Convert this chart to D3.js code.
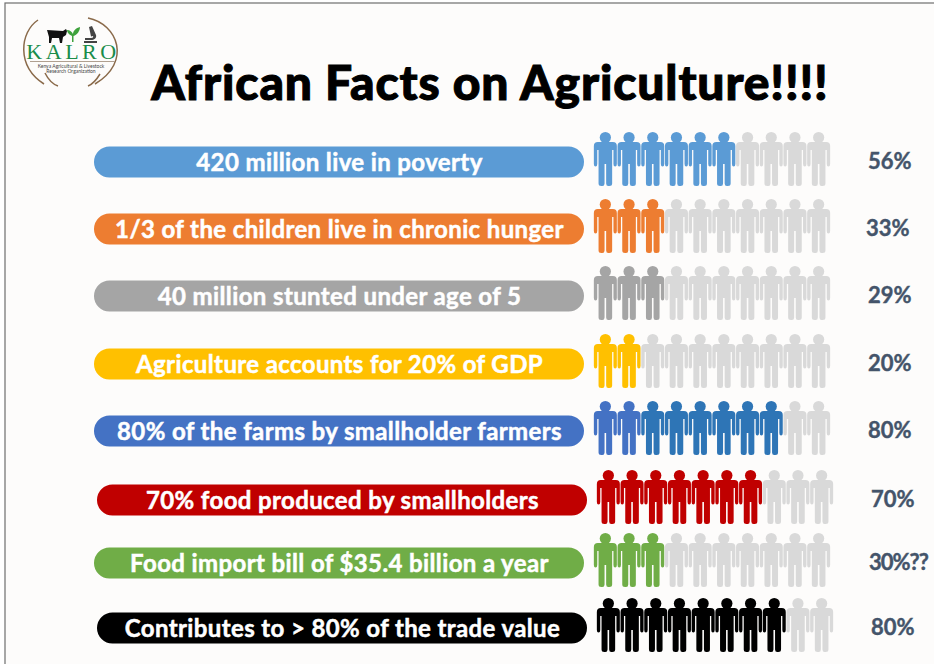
<!DOCTYPE html>
<html>
<head>
<meta charset="utf-8">
<script src="https://cdn.jsdelivr.net/npm/d3@7"></script>
<style>
  html, body { margin: 0; padding: 0; background: #fff; overflow: hidden; }
  text { font-family: Lato, sans-serif; }
</style>
</head>
<body>
<div id="chart"></div>
<script>
const facts = [
  "420 million live in poverty",
  "1/3 of the children live in chronic hunger",
  "40 million stunted under age of 5",
  "Agriculture accounts for 20% of GDP",
  "80% of the farms by smallholder farmers",
  "70% food produced by smallholders",
  "Food import bill of $35.4 billion a year",
  "Contributes to > 80% of the trade value"
]
const filled = [6, 3, 3, 2, 8, 7, 3, 8]
const pctLabels = ["56%", "33%", "29%", "20%", "80%", "70%", "30%??", "80%"]
const colors = ["#5b9bd5", "#ed7d31", "#a5a5a5", "#ffc000", "#4472c4", "#c00000", "#70ad47", "#000000"]
const iconIndex = d3.range(10)

let width = 934
let height = 664

// rows are not evenly spaced in the slide, so the y scale is ordinal
let y = d3.scaleOrdinal().domain(d3.range(8)).range([162, 229, 296, 364, 431, 500, 563, 628])
let x = d3.scaleBand().domain(iconIndex).range([0, 237]).padding(0)
let rowShift = [0, 0, 0, 0, 0, 3, 0, 3]
let pctX = [868, 866, 868, 868, 868, 871, 869, 871]

// the farms row changes blue after its second person
function personColor(row, k) {
  if (k >= filled[row]) return "#d9d9d9"
  if (row === 4 && k >= 2) return "#2e75b6"
  return colors[row]
}

let svg = d3.select("#chart").append("svg")
  .attr("width", width)
  .attr("height", height)

svg.append("rect")
  .attr("x", 5).attr("y", 3)
  .attr("width", width).attr("height", height)
  .attr("fill", "#fdfcfb")
  .attr("stroke", "#6e6e6e")
  .attr("stroke-width", 1.2)

svg.append("text")
  .attr("x", 490).attr("y", 100)
  .attr("text-anchor", "middle")
  .attr("font-size", 48)
  .attr("font-weight", 900)
  .attr("letter-spacing", 0.85)
  .attr("stroke", "#000")
  .attr("stroke-width", 1)
  .attr("fill", "#000")
  .text("African Facts on Agriculture!!!!")

// one person, origin at top centre
const personPath = "M-7.5,9 H7.5 Q11.5,9 11.5,13 V31 Q11.5,33.5 9.8,33.5 Q8.1,33.5 8.1,31 V17 H6.8 V50.5 Q6.8,53 4,53 H3 Q0.8,53 0.8,50.5 V31 H-0.8 V50.5 Q-0.8,53 -3,53 H-4 Q-6.8,53 -6.8,50.5 V17 H-8.1 V31 Q-8.1,33.5 -9.8,33.5 Q-11.5,33.5 -11.5,31 V13 Q-11.5,9 -7.5,9 Z"

let rows = svg.selectAll("g.row")
  .data(facts)
  .enter().append("g")
  .attr("class", "row")
  .attr("transform", (d, i) => "translate(" + rowShift[i] + "," + y(i) + ")")

rows.append("rect")
  .attr("x", 94).attr("y", -15.5)
  .attr("width", 490).attr("height", 31)
  .attr("rx", 15.5)
  .attr("fill", (d, i) => colors[i])

rows.append("text")
  .attr("x", 339.5).attr("y", 8.5)
  .attr("text-anchor", "middle")
  .attr("font-size", 24)
  .attr("font-weight", 700)
  .attr("letter-spacing", 0.38)
  .attr("stroke", "#fff")
  .attr("stroke-width", 0.5)
  .attr("fill", "#fff")
  .text(d => d)

rows.each(function(d, i) {
  let people = d3.select(this).selectAll("g.person")
    .data(iconIndex)
    .enter().append("g")
    .attr("class", "person")
    .attr("transform", k => "translate(" + (594 + x(k) + x.bandwidth() / 2 - 0.5) + ",-29)")
    .attr("fill", k => personColor(i, k))
  people.append("circle").attr("cx", 0).attr("cy", 4.5).attr("r", 5.6)
  people.append("path").attr("d", personPath)
})

svg.selectAll("text.pct")
  .data(pctLabels)
  .enter().append("text")
  .attr("class", "pct")
  .attr("x", (d, i) => pctX[i])
  .attr("y", (d, i) => y(i) + 7)
  .attr("font-size", 22)
  .attr("font-weight", 700)
  .attr("letter-spacing", d => d.length > 3 ? -1 : 0)
  .attr("stroke", "#44546a")
  .attr("stroke-width", 0.4)
  .attr("fill", "#44546a")
  .text(d => d)

// KALRO logo
let logo = svg.append("g")
const brown = "#8a6a4a"
const arcs = [
  "M38,20 C20,32 16,66 44,84",
  "M88,18 C118,24 132,62 95,84",
  "M45,73 C48,79 52,84 58,86",
  "M100,74 C97,79 93,84 88,86"
]
logo.selectAll("path.arc")
  .data(arcs)
  .enter().append("path")
  .attr("class", "arc")
  .attr("d", d => d)
  .attr("fill", "none")
  .attr("stroke", brown)
  .attr("stroke-width", 1.5)

// cow
logo.append("path")
  .attr("d", "M47,30 L63,31 L66,29 L67,31 L66,35 L63,37 L62,43 H60 L59,38 H52 L51,43 H49 L49,37 Z")
  .attr("fill", "#111")
// sprout
logo.append("path")
  .attr("d", "M72,42 V36 C70,35 67,33 67,30 C70,30 72,32 73,34 C73,31 76,28 80,27 C80,31 77,35 73.5,36 V42 Z")
  .attr("fill", "#3ea23c")
// microscope
logo.append("path")
  .attr("d", "M84,41 H97 V43 H84 Z M89,27 L92,26 L96,35 C97,38 94,40 91,40 H85 V38 H91 C93,38 93.5,37 93,36 L91,36.5 Z")
  .attr("fill", "#444")

logo.append("text")
  .attr("x", 73).attr("y", 58.5)
  .attr("text-anchor", "middle")
  .attr("font-size", 22)
  .attr("letter-spacing", 3.5)
  .attr("fill", "#1a8c4a")
  .style("font-family", "'Liberation Serif', serif")
  .text("KALRO")
logo.append("line").attr("x1", 30).attr("x2", 115).attr("y1", 61.5).attr("y2", 61.5).attr("stroke", "#b0a090").attr("stroke-width", 1)
logo.append("text").attr("x", 71).attr("y", 67.5).attr("text-anchor", "middle").attr("font-size", 5).attr("fill", "#444").text("Kenya Agricultural & Livestock")
logo.append("text").attr("x", 71).attr("y", 73).attr("text-anchor", "middle").attr("font-size", 5).attr("fill", "#444").text("Research Organization")
</script>
</body>
</html>
